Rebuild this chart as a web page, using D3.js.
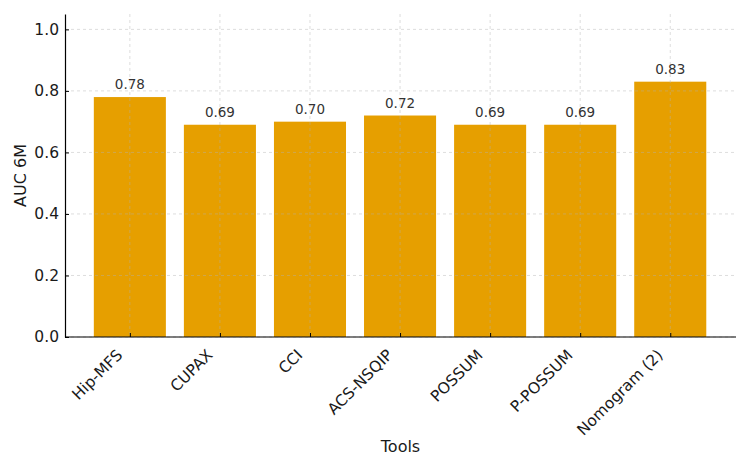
<!DOCTYPE html>
<html><head><meta charset="utf-8">
<script src="https://cdn.jsdelivr.net/npm/d3@7"></script>
<style>body{margin:0;background:#fff}svg{font-family:"DejaVu Sans",sans-serif}</style>
</head><body><svg id="c" width="750" height="469"></svg>
<script>
const categories = ["Hip-MFS","CUPAX","CCI","ACS-NSQIP","POSSUM","P-POSSUM","Nomogram (2)"];
const values = [0.78,0.69,0.70,0.72,0.69,0.69,0.83];
const yTicks = [0.0,0.2,0.4,0.6,0.8,1.0];

const svg = d3.select("#c");
const L=65, R=736, T=14, B=337;
const x = d3.scaleLinear().domain([-0.72,6.73]).range([L,R]);
const y = d3.scaleLinear().domain([0,1.05]).range([B,T]);
const bw = x(0.4)-x(-0.4);

// bars
svg.append("g").selectAll("rect").data(values).join("rect")
  .attr("x",(d,i)=>x(i)-bw/2).attr("width",bw)
  .attr("y",d=>y(d)).attr("height",d=>B-y(d))
  .attr("fill","#E69F00");

// grid on top
const grid = svg.append("g").attr("stroke","#b0b0b0").attr("stroke-opacity",0.55).attr("stroke-dasharray","3,3").attr("stroke-width",0.8);
grid.selectAll("line.h").data(yTicks).join("line").attr("class","h")
  .attr("x1",L).attr("x2",R).attr("y1",d=>y(d)).attr("y2",d=>y(d));
grid.selectAll("line.v").data(categories).join("line").attr("class","v")
  .attr("x1",(d,i)=>x(i)).attr("x2",(d,i)=>x(i)).attr("y1",T).attr("y2",B);

// y axis
const ya = svg.append("g").attr("transform",`translate(${L},0)`)
  .call(d3.axisLeft(y).tickValues(yTicks).tickFormat(d3.format(".1f")).tickSizeInner(-4).tickSizeOuter(0).tickPadding(6));
ya.select(".domain").attr("stroke","#000").attr("stroke-width",1.2);
ya.selectAll(".tick line").attr("stroke","#000");
ya.selectAll("text").attr("font-size",15.5).attr("fill","#1a1a1a").attr("font-family","DejaVu Sans");

// x axis
const xa = svg.append("g").attr("transform",`translate(0,${B})`)
  .call(d3.axisBottom(x).tickValues(d3.range(categories.length)).tickFormat(i=>categories[i]).tickSizeInner(-4).tickSizeOuter(0).tickPadding(8));
xa.select(".domain").attr("stroke","#000").attr("stroke-width",1.2).attr("d",`M${L},0H${R}`);
xa.selectAll(".tick line").attr("stroke","#000");
xa.selectAll("text").attr("font-size",15.5).attr("fill","#1a1a1a").attr("font-family","DejaVu Sans")
  .attr("text-anchor","end").attr("dy",0)
  .attr("transform","translate(-7,19) rotate(-45)").attr("y",0);

// value labels
svg.append("g").selectAll("text").data(values).join("text")
  .attr("x",(d,i)=>x(i)).attr("y",d=>y(d)-8)
  .attr("text-anchor","middle").attr("font-size",13.5).attr("fill","#333")
  .text(d=>d.toFixed(2));

// axis labels
svg.append("text").attr("x",(L+R)/2).attr("y",452).attr("text-anchor","middle").attr("font-size",16).attr("fill","#1a1a1a").text("Tools");
svg.append("text").attr("transform",`translate(26,${(T+B)/2}) rotate(-90)`).attr("text-anchor","middle").attr("font-size",16).attr("fill","#1a1a1a").text("AUC 6M");
</script></body></html>
